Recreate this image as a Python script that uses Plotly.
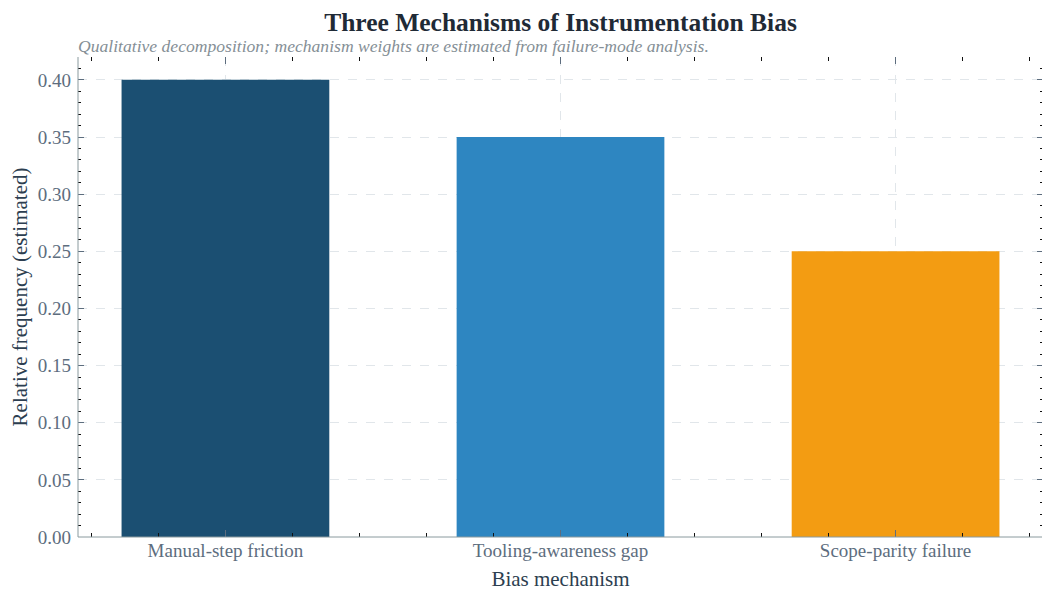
import plotly.graph_objects as go

categories = ["Manual-step friction", "Tooling-awareness gap", "Scope-parity failure"]
values = [0.40, 0.35, 0.25]
bar_colors = ["#1b4f72", "#2e86c1", "#f39c12"]
y_tick_vals = [0.00, 0.05, 0.10, 0.15, 0.20, 0.25, 0.30, 0.35, 0.40]

positions = list(range(len(categories)))
SERIF = "Liberation Serif, Times New Roman, serif"

# page body has an 8px default margin; figure size/margins compensate for it
fig = go.Figure()
fig.add_trace(go.Bar(
    x=positions, y=values, marker=dict(color=bar_colors, line=dict(width=0)),
    width=0.62, hovertext=categories,
))

fig.update_layout(
    width=1042, height=592,
    margin=dict(l=70, r=7, t=49, b=63, autoexpand=False),
    plot_bgcolor="white", paper_bgcolor="white",
    showlegend=False,
    font=dict(family=SERIF, color="#5d6d7e"),
    title=dict(
        text="<b>Three Mechanisms of Instrumentation Bias</b>",
        x=0.5, xref="paper", xanchor="center", y=0.977, yanchor="middle",
        font=dict(family=SERIF, size=25.5, color="#1f2a36"),
    ),
    annotations=[dict(
        text="<i>Qualitative decomposition; mechanism weights are estimated from failure-mode analysis.</i>",
        xref="paper", yref="paper", x=0, y=1.0, xanchor="left", yanchor="middle",
        yshift=11, xshift=-2, showarrow=False,
        font=dict(family=SERIF, size=17.6, color="#858f96"),
    )],
    shapes=[
        dict(type="line", xref="paper", yref="paper", x0=0, x1=1, y0=0, y1=0,
             line=dict(color="#8a9a9e", width=1), layer="above"),
        dict(type="line", xref="paper", yref="paper", x0=0, x1=0, y0=0, y1=1,
             line=dict(color="#8a9a9e", width=1), layer="above"),
    ],
)

fig.update_xaxes(
    range=[-0.44, len(categories) - 1 + 0.44], automargin=False,
    tickmode="array", tickvals=positions, ticktext=categories,
    ticks="inside", ticklen=7, tickcolor="#5d6d7e", tickwidth=1,
    mirror="ticks", showline=False, zeroline=False,
    showgrid=True, gridcolor="#e1e6ea", griddash="dash", gridwidth=1,
    tickfont=dict(family=SERIF, size=19, color="#5d6d7e"),
    title=dict(text="Bias mechanism", font=dict(family=SERIF, size=21, color="#2c3e50"), standoff=11),
    minor=dict(dtick=0.2, tick0=0, ticks="inside", ticklen=4, tickcolor="#111111", showgrid=False),
)
fig.update_yaxes(
    range=[0, 0.42], automargin=False,
    tickmode="array", tickvals=y_tick_vals, tickformat=".2f",
    ticks="inside", ticklen=6, tickcolor="#5d6d7e", tickwidth=1,
    ticklabelstandoff=6,
    mirror="ticks", showline=False, zeroline=False,
    showgrid=True, gridcolor="#e1e6ea", griddash="dash", gridwidth=1,
    tickfont=dict(family=SERIF, size=19, color="#5d6d7e"),
    title=dict(text="Relative frequency (estimated)", font=dict(family=SERIF, size=21, color="#2c3e50"), standoff=8),
    minor=dict(dtick=0.01, tick0=0, ticks="inside", ticklen=3, tickcolor="#111111", showgrid=False),
)

fig.write_html("out.html")
